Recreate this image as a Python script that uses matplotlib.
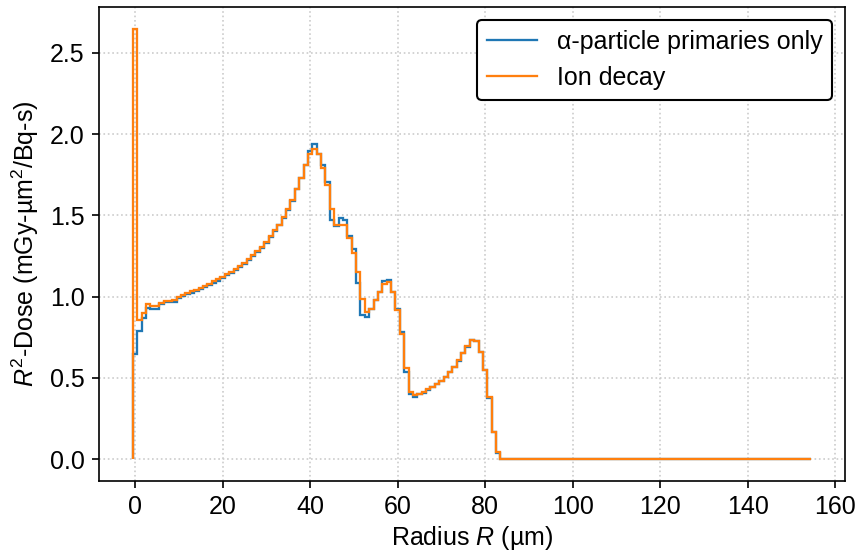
import matplotlib
matplotlib.use("Agg")
import matplotlib.pyplot as plt
import numpy as np

plt.rcParams['font.family'] = ['Liberation Sans', 'DejaVu Sans']
plt.rcParams['mathtext.fontset'] = 'custom'
plt.rcParams['mathtext.rm'] = 'Liberation Sans'
plt.rcParams['mathtext.it'] = 'Liberation Sans:italic'
plt.rcParams['font.size'] = 12

# bin edges (µm): bins centred on 0,1,...,154
bin_edges = np.arange(-0.5, 155.0, 1.0)

ion_decay_head = [
    2.65, 0.855, 0.90, 0.952, 0.943, 0.943, 0.962, 0.974, 0.974, 0.978,
    0.999, 1.011, 1.024, 1.032, 1.044, 1.054, 1.065, 1.077, 1.094, 1.106,
    1.118, 1.137, 1.153, 1.173, 1.190, 1.208, 1.231, 1.255, 1.280, 1.307,
    1.337, 1.372, 1.409, 1.444, 1.491, 1.538, 1.594, 1.662, 1.731, 1.813,
    1.875, 1.908, 1.875, 1.793, 1.690, 1.538, 1.440, 1.444, 1.440, 1.362,
    1.266, 1.149, 0.985, 0.907, 0.923, 0.978, 1.030, 1.081, 1.091, 1.030,
    0.921, 0.773, 0.558, 0.414, 0.392, 0.400, 0.412, 0.429, 0.445, 0.462,
    0.482, 0.507, 0.537, 0.568, 0.609, 0.654, 0.695, 0.736, 0.730, 0.660,
    0.548, 0.380, 0.168, 0.045, 0.004,
]

alpha_only_head = [
    0.645, 0.79, 0.87, 0.933, 0.923, 0.923, 0.952, 0.965, 0.966, 0.970,
    0.992, 1.004, 1.017, 1.025, 1.037, 1.047, 1.058, 1.070, 1.087, 1.099,
    1.112, 1.131, 1.147, 1.167, 1.185, 1.203, 1.226, 1.250, 1.275, 1.302,
    1.333, 1.368, 1.405, 1.440, 1.487, 1.535, 1.591, 1.660, 1.729, 1.811,
    1.895, 1.937, 1.875, 1.813, 1.707, 1.471, 1.436, 1.485, 1.471, 1.374,
    1.292, 1.087, 0.886, 0.876, 0.927, 0.978, 1.030, 1.095, 1.100, 1.030,
    0.927, 0.780, 0.537, 0.400, 0.384, 0.398, 0.410, 0.427, 0.443, 0.460,
    0.480, 0.505, 0.535, 0.566, 0.607, 0.652, 0.693, 0.736, 0.730, 0.658,
    0.546, 0.378, 0.165, 0.035, 0.003,
]

tail_zeros = [
    0, 0, 0, 0, 0, 0, 0, 0, 0, 0, 0, 0, 0, 0, 0, 0, 0, 0, 0, 0,
    0, 0, 0, 0, 0, 0, 0, 0, 0, 0, 0, 0, 0, 0, 0, 0, 0, 0, 0, 0,
    0, 0, 0, 0, 0, 0, 0, 0, 0, 0, 0, 0, 0, 0, 0, 0, 0, 0, 0, 0,
    0, 0, 0, 0, 0, 0, 0, 0, 0, 0,
]

ion_decay = np.array(ion_decay_head + tail_zeros, dtype=float)
alpha_only = np.array(alpha_only_head + tail_zeros, dtype=float)

series_labels = ["α-particle primaries only", "Ion decay"]
x_ticks = [0, 20, 40, 60, 80, 100, 120, 140, 160]
y_ticks = [0.0, 0.5, 1.0, 1.5, 2.0, 2.5]

fig = plt.figure(figsize=(857 / 150, 552 / 150), dpi=150)
ax = fig.add_axes([99 / 857, 1 - 480.7 / 552, (845 - 99) / 857, (480.7 - 7) / 552])

ax.stairs(alpha_only, bin_edges, color='#1f77b4', lw=1.1, label=series_labels[0], baseline=0)
ax.stairs(ion_decay, bin_edges, color='#ff7f0e', lw=1.1, label=series_labels[1], baseline=0)

ax.set_xticks(x_ticks)
ax.set_yticks(y_ticks)
ax.set_yticklabels([f"{v:.1f}" for v in y_ticks])
ax.set_xlim(-8.25, 162.25)
ax.set_ylim(-0.1325, 2.7825)

ax.grid(True, linestyle=':', color='#cccccc', lw=0.8)
ax.set_axisbelow(True)

ax.set_xlabel("Radius $R$ (µm)", labelpad=2.5)
ax.set_ylabel("$R^2$-Dose (mGy-µm$^2$/Bq-s)")

leg = ax.legend(loc='upper right', framealpha=1, edgecolor='black', fancybox=True)
leg.get_frame().set_linewidth(1.0)

fig.savefig("out.png", dpi=150)
